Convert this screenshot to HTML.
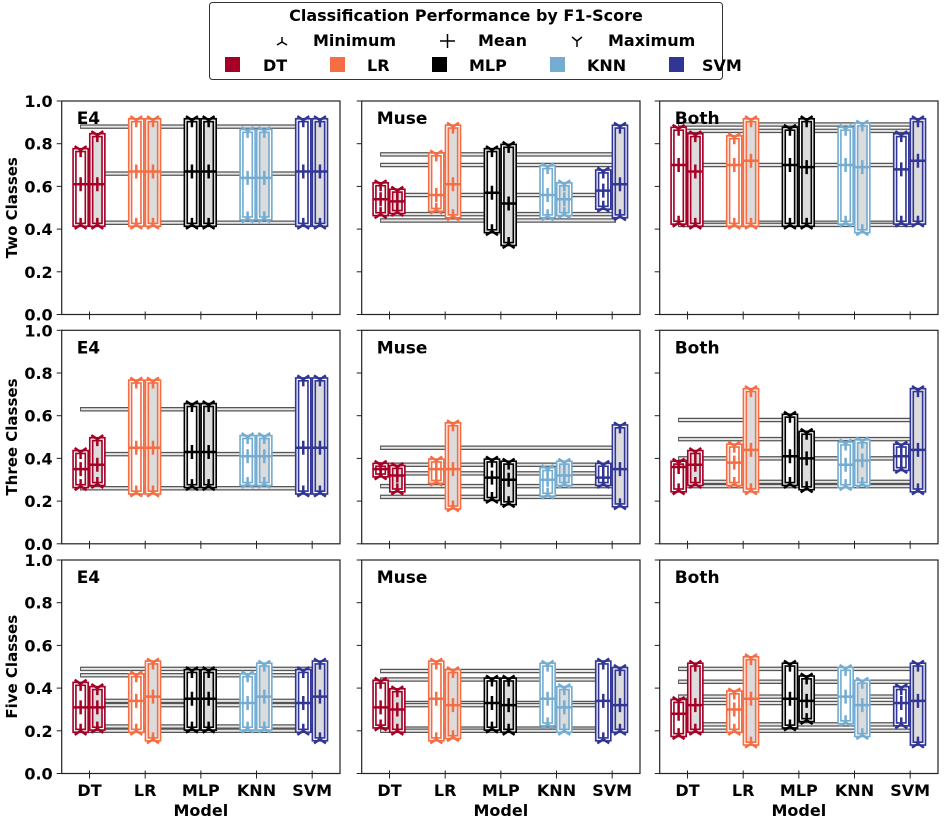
<!DOCTYPE html>
<html><head><meta charset="utf-8"><style>
body{margin:0;background:#fff;}
svg{display:block;font-family:"DejaVu Sans","Liberation Sans",sans-serif;font-weight:bold;}
</style></head><body>
<svg id="chart" width="944" height="819" viewBox="0 0 944 819" xmlns="http://www.w3.org/2000/svg">
<g>
<rect x="209.5" y="2.5" width="513" height="77" rx="3" fill="#fff" stroke="#333" stroke-width="1"/>
<text x="466" y="21" text-anchor="middle" font-size="16">Classification Performance by F1-Score</text>
<g><path d="M282 42 L282 37 M282 42 L277 45 M282 42 L287 45" stroke="#000" stroke-width="1.5" fill="none"/><text x="313" y="46" font-size="16">Minimum</text></g>
<g><path d="M440 41 H455 M447.5 34 V48" stroke="#000" stroke-width="1.5"/><text x="478" y="46" font-size="16">Mean</text></g>
<g><path d="M577 41 L577 47 M577 41 L572 37 M577 41 L582 37" stroke="#000" stroke-width="1.5" fill="none"/><text x="608" y="46" font-size="16">Maximum</text></g>
<g><rect x="225" y="57" width="15" height="15" fill="#a50026"/><text x="263" y="71" font-size="16">DT</text></g>
<g><rect x="330" y="57" width="15" height="15" fill="#f46d43"/><text x="367" y="71" font-size="16">LR</text></g>
<g><rect x="432" y="57" width="15" height="15" fill="#000"/><text x="469" y="71" font-size="16">MLP</text></g>
<g><rect x="550" y="57" width="15" height="15" fill="#74add1"/><text x="587" y="71" font-size="16">KNN</text></g>
<g><rect x="669" y="57" width="15" height="15" fill="#313695"/><text x="702" y="71" font-size="16">SVM</text></g>
</g>
</svg>
<script>
const models = ["DT","LR","MLP","KNN","SVM"];
const colors = ["#a50026","#f46d43","#000000","#74add1","#313695"];
const rowLabels = ["Two Classes","Three Classes","Five Classes"];
const colLabels = ["E4","Muse","Both"];
const yTicks = [0.0,0.2,0.4,0.6,0.8,1.0];
// per panel: per model [leftMin,leftMean,leftMax, rightMin,rightMean,rightMax]
const twoE4   = [[.42,.61,.77,.42,.61,.84],[.42,.67,.91,.42,.67,.91],[.42,.67,.91,.42,.67,.91],[.45,.64,.86,.45,.64,.86],[.42,.67,.91,.42,.67,.91]];
const twoMuse = [[.47,.54,.61,.48,.53,.58],[.49,.56,.75,.46,.61,.88],[.39,.57,.77,.33,.52,.79],[.46,.56,.69,.47,.54,.61],[.50,.58,.67,.46,.61,.88]];
const twoBoth = [[.43,.70,.87,.42,.67,.84],[.42,.70,.83,.42,.72,.91],[.42,.70,.87,.42,.69,.91],[.43,.70,.87,.39,.69,.89],[.43,.68,.84,.43,.72,.91]];
const threeE4   = [[.27,.35,.43,.28,.37,.49],[.24,.45,.76,.24,.45,.76],[.27,.43,.65,.27,.43,.65],[.28,.41,.50,.28,.41,.50],[.24,.45,.77,.24,.45,.77]];
const threeMuse = [[.32,.35,.37,.25,.32,.36],[.29,.35,.39,.17,.35,.56],[.21,.31,.39,.19,.30,.38],[.23,.30,.35,.28,.32,.38],[.28,.31,.37,.18,.35,.55]];
const threeBoth = [[.25,.36,.38,.28,.37,.43],[.28,.38,.46,.25,.44,.72],[.28,.41,.60,.26,.40,.52],[.27,.37,.47,.28,.39,.48],[.35,.41,.46,.25,.44,.72]];
const fiveE4   = [[.20,.31,.42,.21,.31,.40],[.20,.34,.46,.16,.36,.52],[.21,.35,.48,.21,.35,.48],[.21,.33,.46,.21,.36,.51],[.20,.33,.48,.16,.36,.52]];
const fiveMuse = [[.22,.31,.43,.20,.30,.39],[.16,.35,.52,.17,.32,.48],[.21,.33,.44,.20,.32,.44],[.23,.35,.51,.20,.31,.40],[.16,.34,.52,.20,.32,.49]];
const fiveBoth = [[.18,.28,.34,.20,.32,.51],[.20,.30,.38,.14,.35,.54],[.22,.35,.51,.25,.34,.45],[.24,.36,.49,.18,.32,.43],[.23,.33,.40,.14,.34,.51]];
const refTwoE4 = [.88,.66,.43], refTwoMuse = [.75,.70,.56,.47,.44], refTwoBoth = [.89,.86,.70,.43,.42];
const refThreeE4 = [.63,.42,.26], refThreeMuse = [.45,.37,.33,.27,.22], refThreeBoth = [.58,.49,.40,.29,.27];
const refFiveE4 = [.49,.46,.34,.32,.22,.20], refFiveMuse = [.48,.44,.33,.32,.21,.20], refFiveBoth = [.49,.43,.36,.33,.23,.20];

const panels = [[twoE4,twoMuse,twoBoth],[threeE4,threeMuse,threeBoth],[fiveE4,fiveMuse,fiveBoth]];
const refs = [[refTwoE4,refTwoMuse,refTwoBoth],[refThreeE4,refThreeMuse,refThreeBoth],[refFiveE4,refFiveMuse,refFiveBoth]];

const NS = "http://www.w3.org/2000/svg";
const svg = document.getElementById("chart");
const colX = [61.7, 361.7, 659.7], panelW = 278.3;
const rowY = [101, 330.3, 560], panelH = 213.5;
function mk(tag, attrs, parent){const e=document.createElementNS(NS,tag);for(const k in attrs)e.setAttribute(k,attrs[k]);parent.appendChild(e);return e;}

for(let r=0;r<3;r++){
  const yl = mk("text",{x:0,y:0,"font-size":15,"text-anchor":"middle",transform:`translate(17,${rowY[r]+panelH/2}) rotate(-90)`},svg);
  
  
  yl.textContent = rowLabels[r];
  for(let c=0;c<3;c++){
    const x0=colX[c], y0=rowY[r];
    const xs = v => x0 + (v+0.5)/5*panelW;
    const ys = v => y0 + panelH - v*panelH;
    const g = mk("g",{},svg);
    
    
    refs[r][c].forEach(v=>{
      const a=xs(-0.17), b=xs(4.07), y=ys(v);
      const l1=mk("line",{x1:a,x2:b,y1:y,y2:y,stroke:"#555","stroke-width":4.5},g);
      
      
      mk("line",{x1:a+1,x2:b-1,y1:y,y2:y,stroke:"#e6e6e6","stroke-width":2},g);
    });
    panels[r][c].forEach((d,m)=>{
      const col=colors[m];
      [0,1].forEach(side=>{
        const mn=d[side*3], me=d[side*3+1], mx=d[side*3+2];
        const cx = xs(m + (side? 0.14 : -0.16)), w = 0.22/5*panelW;
        const bx=cx-w/2, top=ys(mx), bot=ys(mn);
        const rect=mk("rect",{x:bx,y:top,width:w,height:bot-top,fill:side?"#dcdcdc":"#fff",stroke:col,"stroke-width":4.5},g);
        
        
        mk("rect",{x:bx,y:top,width:w,height:bot-top,fill:"none",stroke:"#fff","stroke-width":1.2},g);
        mk("path",{d:`M${cx} ${top} L${cx-6} ${top-4} M${cx} ${top} L${cx+6} ${top-4} M${cx} ${top} L${cx} ${top+7}`,stroke:col,"stroke-width":2.5,fill:"none"},g);
        mk("path",{d:`M${cx} ${bot} L${cx-6} ${bot+4} M${cx} ${bot} L${cx+6} ${bot+4} M${cx} ${bot} L${cx} ${bot-7}`,stroke:col,"stroke-width":2.5,fill:"none"},g);
        const mm=mk("path",{d:`M${cx-7} ${ys(me)} H${cx+7} M${cx} ${ys(me)-7} V${ys(me)+7}`,stroke:col,"stroke-width":2.5},g);
        
        
      });
    });
    mk("rect",{x:x0,y:y0,width:panelW,height:panelH,fill:"none",stroke:"#222","stroke-width":1.2},g);
    const t=mk("text",{x:x0+15,y:y0+23,"font-size":17},g);
    
    
    t.textContent=colLabels[c];
    yTicks.forEach(v=>{
      mk("line",{x1:x0-5,x2:x0,y1:ys(v),y2:ys(v),stroke:"#222","stroke-width":1},g);
      if(c===0){
        const tl=mk("text",{x:x0-9,y:ys(v)+6,"font-size":16,"text-anchor":"end"},g);
        
        
        tl.textContent=v.toFixed(1);
      }
    });
    models.forEach((name,m)=>{
      mk("line",{x1:xs(m),x2:xs(m),y1:y0+panelH,y2:y0+panelH+5,stroke:"#222","stroke-width":1},g);
      mk("line",{x1:xs(m),x2:xs(m),y1:y0+panelH,y2:y0+panelH-3,stroke:"#222","stroke-width":1},g);
      if(r===2){
        const xl=mk("text",{x:xs(m),y:796,"font-size":16,"text-anchor":"middle"},g);
        
        
        xl.textContent=name;
      }
    });
    if(r===2){
      const xt=mk("text",{x:x0+panelW/2,y:816,"font-size":16,"text-anchor":"middle"},g);
      
      
      xt.textContent="Model";
    }
  }
}
</script>
</body></html>
